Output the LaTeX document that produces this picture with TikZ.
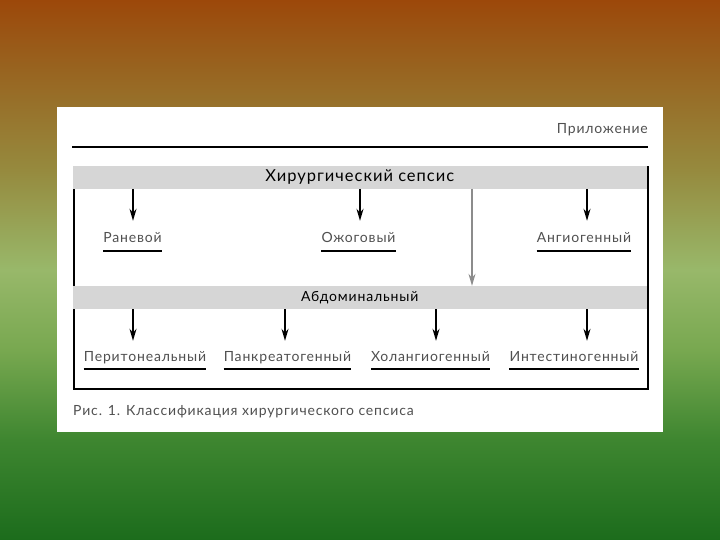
\documentclass[tikz,border=0pt]{standalone}
\usepackage{fontspec}
\setmainfont{Lato}[LetterSpace=6]
\usetikzlibrary{arrows.meta}
\definecolor{bgA}{RGB}{28,108,28}
\definecolor{bgB}{RGB}{62,134,48}
\definecolor{bgC}{RGB}{120,168,80}
\definecolor{bgD}{RGB}{152,184,106}
\definecolor{bgE}{RGB}{150,138,62}
\definecolor{bgF}{RGB}{152,100,32}
\definecolor{bgG}{RGB}{156,72,10}
\definecolor{barGray}{RGB}{214,214,214}
\definecolor{txtGray}{RGB}{80,80,80}
\definecolor{arrGray}{RGB}{140,140,140}
\pgfdeclareverticalshading{bgshade}{100bp}{color(0bp)=(bgA); color(25bp)=(bgA); color(34.26bp)=(bgB); color(42.59bp)=(bgC); color(50bp)=(bgD); color(59.26bp)=(bgE); color(68.52bp)=(bgF); color(75bp)=(bgG); color(100bp)=(bgG)}
\begin{document}
\begin{tikzpicture}[x=1pt,y=-1pt,
  lbl/.style={inner xsep=0pt, text=txtGray, text height=10pt, text depth=3pt, font=\fontsize{14}{16}\selectfont},
  lblA/.style={lbl, text height=13pt, text depth=0pt, minimum height=30pt},
  lblB/.style={lbl, text height=13pt, text depth=0pt, minimum height=28pt},
  bar/.style={fill=barGray, draw=none, minimum width=573.5pt, minimum height=23pt, inner sep=0pt},
  arr/.style={-{Stealth[length=12pt,width=7pt]}, line width=1.5pt},
  garr/.style={-{Stealth[length=12pt,width=7pt]}, line width=1.2pt, draw=arrGray},
  uline/.style={line width=1.8pt},
  frame/.style={line width=2pt}]
\useasboundingbox (0,0) rectangle (720,540);
\shade[shading=bgshade] (0,0) rectangle (720,540);
\fill[white] (57,107) rectangle (663,432);
% header
\node[lbl, anchor=east] (app) at (648,130) {Приложение};
\coordinate (hl) at (72,147);
\coordinate (hr) at (648,147);
\draw[line width=2.6pt] (hl) -- (hr);
% frame
\coordinate (ftl) at (74,189);
\coordinate (fbl) at (74,389);
\coordinate (fbr) at (647.5,389);
\coordinate (ftr) at (647.5,166);
\draw[frame] (ftl) -- (fbl) -- (fbr) -- (ftr);
% bars
\node[bar, font=\fontsize{16.5}{18}\selectfont] (top) at (359.75,177.5) {Хирургический сепсис};
\node[bar, font=\fontsize{14}{16}\selectfont] (abd) at (359.75,297.5) {Абдоминальный};
% row 1
\coordinate (b1) at (133,189);
\coordinate (b2) at (360,189);
\coordinate (b3) at (587,189);
\node[lblA] (ran) at (132.5,236) {Раневой};
\node[lblA] (ozh) at (358.5,236) {Ожоговый};
\node[lblA] (ang) at (584,236) {Ангиогенный};
\draw[arr] (b1) -- (ran.north -| b1);
\draw[arr] (b2) -- (ozh.north -| b2);
\draw[arr] (b3) -- (ang.north -| b3);
\foreach \n in {ran,ozh,ang}{
  \draw[uline] (\n.south west) -- (\n.south east);
}
\coordinate (g1) at (472,189);
\draw[garr] (g1) -- (abd.north -| g1);
% row 2
\coordinate (a1) at (133,309);
\coordinate (a2) at (285,309);
\coordinate (a3) at (436,309);
\coordinate (a4) at (587,309);
\node[lblB] (per) at (145,355) {Перитонеальный};
\node[lblB] (pan) at (287.5,355) {Панкреатогенный};
\node[lblB] (hol) at (430.5,355) {Холангиогенный};
\node[lblB] (int) at (574,355) {Интестиногенный};
\draw[arr] (a1) -- (per.north -| a1);
\draw[arr] (a2) -- (pan.north -| a2);
\draw[arr] (a3) -- (hol.north -| a3);
\draw[arr] (a4) -- (int.north -| a4);
\foreach \n in {per,pan,hol,int}{
  \draw[uline] (\n.south west) -- (\n.south east);
}
% caption
\node[lbl, anchor=west, inner xsep=0pt] (cap) at (73,412) {Рис. 1. Классификация хирургического сепсиса};
\end{tikzpicture}
\end{document}
